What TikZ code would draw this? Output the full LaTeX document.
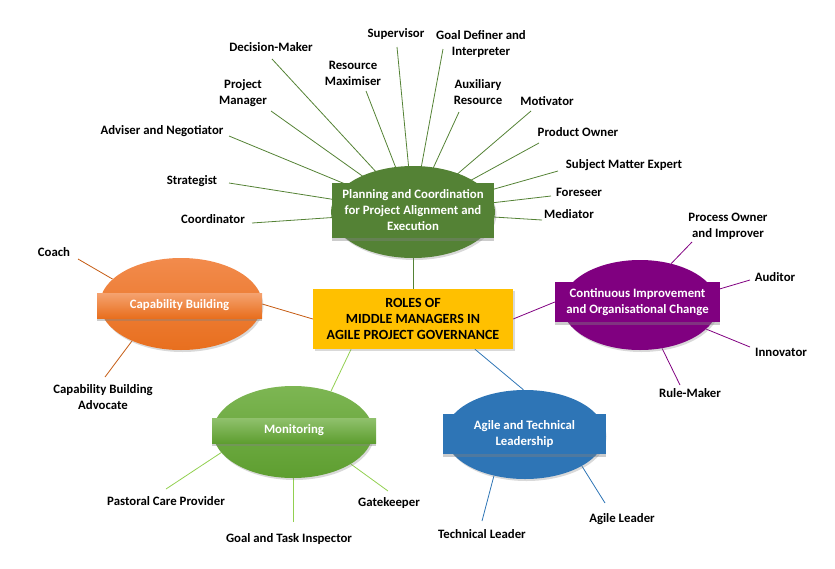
\documentclass[tikz,border=0pt]{standalone}
\usepackage{fontspec}
\setmainfont{Carlito}
\usetikzlibrary{shapes.geometric,shadows,backgrounds}
\definecolor{plang}{HTML}{548235}
\definecolor{yel}{HTML}{FFC000}
\definecolor{orgtop}{HTML}{F28B4C}
\definecolor{orgbot}{HTML}{E86F1E}
\definecolor{orgline}{HTML}{C55A11}
\definecolor{purp}{HTML}{800080}
\definecolor{montop}{HTML}{7DB653}
\definecolor{monbot}{HTML}{5E9E30}
\definecolor{monline}{HTML}{92D050}
\definecolor{blu}{HTML}{2E75B6}
\begin{document}
\begin{tikzpicture}[x=1pt,y=-1pt,
  lbl/.style={font=\bfseries\fontsize{12.8}{16}\selectfont, text=black, align=center, inner sep=0pt},
  ell/.style={ellipse, minimum width=#1, minimum height=92, inner sep=0pt, draw=none,
    drop shadow={shadow xshift=1.5pt, shadow yshift=-2pt, opacity=0.3}},
  banner/.style={rectangle, minimum width=#1, inner sep=0pt, align=center, text=white,
    font=\bfseries\fontsize{12.8}{16}\selectfont,
    drop shadow={shadow xshift=0pt, shadow yshift=-3pt, opacity=0.4}},
  conn/.style={line width=0.8pt},
]
\useasboundingbox (0,0) rectangle (835,568);

% central box
\node[rectangle, fill=yel, minimum width=200, minimum height=60, inner sep=0pt, align=center,
  font=\bfseries\fontsize{14}{16}\selectfont,
  drop shadow={shadow xshift=1.5pt, shadow yshift=-2pt, opacity=0.3}] (center) at (413,319)
  {ROLES OF\\MIDDLE MANAGERS IN\\AGILE PROJECT GOVERNANCE};

% planning
\node[ell=164, fill=plang] (planell) at (413,212) {};
\node[banner=162, minimum height=55, fill=plang] (plan) at (413,210.5)
  {Planning and Coordination\\for Project Alignment and\\Execution};

% capability
\node[ell=162, top color=orgtop, bottom color=orgbot] (capell) at (181,304) {};
\node[banner=165, minimum height=25, top color=orgtop!80!white, bottom color=orgbot] (cap) at (179.5,305.5)
  {Capability Building};

% continuous improvement
\node[ell=156, minimum height=90, fill=purp] (contell) at (640,305) {};
\node[banner=165, minimum height=40, fill=purp] (cont) at (637.5,302)
  {Continuous Improvement\\and Organisational Change};

% monitoring
\node[ell=160, top color=montop, bottom color=monbot] (monell) at (293,432) {};
\node[banner=164, minimum height=25, top color=montop!85!white, bottom color=monbot] (mon) at (294,430.5)
  {Monitoring};

% agile
\node[ell=160, minimum height=89, fill=blu] (agell) at (525,434.5) {};
\node[banner=163, minimum height=40, fill=blu] (ag) at (524.5,434)
  {Agile and Technical\\Leadership};

% labels - planning
\node[lbl] (l1) at (271,47) {Decision-Maker};
\node[lbl] (l2) at (353,73) {Resource\\Maximiser};
\node[lbl] (l3) at (396,34) {Supervisor};
\node[lbl] (l4) at (243,93.5) {Project\\Manager};
\node[lbl] (l5) at (162,131) {Adviser and Negotiator};
\node[lbl] (l6) at (192,181) {Strategist};
\node[lbl] (l7) at (213,219) {Coordinator};
\node[lbl] (l8) at (481,44) {Goal Definer and\\Interpreter};
\node[lbl] (l9) at (478,92) {Auxiliary\\Resource};
\node[lbl] (l10) at (547,101) {Motivator};
\node[lbl] (l11) at (578,132) {Product Owner};
\node[lbl] (l12) at (624,165) {Subject Matter Expert};
\node[lbl] (l13) at (579,192) {Foreseer};
\node[lbl] (l14) at (569,214) {Mediator};
% others
\node[lbl] (c1) at (54,252) {Coach};
\node[lbl] (c2) at (103,397.5) {Capability Building\\Advocate};
\node[lbl] (p1) at (728,226) {Process Owner\\and Improver};
\node[lbl] (p2) at (775,277) {Auditor};
\node[lbl] (p3) at (781,352) {Innovator};
\node[lbl] (p4) at (690,393) {Rule-Maker};
\node[lbl] (m1) at (166,501) {Pastoral Care Provider};
\node[lbl] (m2) at (289,539) {Goal and Task Inspector};
\node[lbl] (m3) at (389,503) {Gatekeeper};
\node[lbl] (a1) at (482,534) {Technical Leader};
\node[lbl] (a2) at (622,519) {Agile Leader};

% free ends
\coordinate (e1) at (272,59);
\coordinate (e2) at (366,91);
\coordinate (e3) at (397,47);
\coordinate (e4) at (271,111);
\coordinate (e5) at (229,136);
\coordinate (e6) at (229,183);
\coordinate (e7) at (252,223);
\coordinate (e8) at (443,49);
\coordinate (e9) at (459,112);
\coordinate (e10) at (531,111);
\coordinate (e11) at (539,143);
\coordinate (e12) at (558,171);
\coordinate (e13) at (551,196);
\coordinate (e14) at (542,220);
\coordinate (ec1) at (78,259);
\coordinate (ec2) at (105,377);
\coordinate (ep1) at (692,242);
\coordinate (ep2) at (750,280);
\coordinate (ep3) at (750,347);
\coordinate (ep4) at (680,385);
\coordinate (em1) at (166,489);
\coordinate (em2) at (293,522);
\coordinate (em3) at (388,491);
\coordinate (ea1) at (482,521);
\coordinate (ea2) at (605,503);

\begin{pgfonlayer}{background}
\foreach \i in {1,...,14} {\draw[conn, plang] (e\i) -- (planell.center);}
\draw[conn, plang] (center.north) -- (planell.south);
\draw[conn, orgline] (ec1) -- (capell.160.8);
\draw[conn, orgline] (ec2) -- (capell.217.2);
\draw[conn, orgline] (center.west) -- (capell.0);
\draw[conn, purp] (ep1) -- (contell.53.3);
\draw[conn, purp] (ep2) -- (contell.11.3);
\draw[conn, purp] (ep3) -- (contell.340.3);
\draw[conn, purp] (ep4) -- (contell.297.1);
\draw[conn, purp] (center.east) -- (cont.west);
\draw[conn, monline] (em1) -- (monell.196.8);
\draw[conn, monline] (em2) -- (monell.270);
\draw[conn, monline] (em3) -- (monell.331.5);
\draw[conn, monline] (center.206.9) -- (monell.47.9);
\draw[conn, blu] (ea1) -- (agell.233.9);
\draw[conn, blu] (ea2) -- (agell.331);
\draw[conn, blu] (center.334.2) -- (agell.92.5);
\end{pgfonlayer}
\end{tikzpicture}
\end{document}
